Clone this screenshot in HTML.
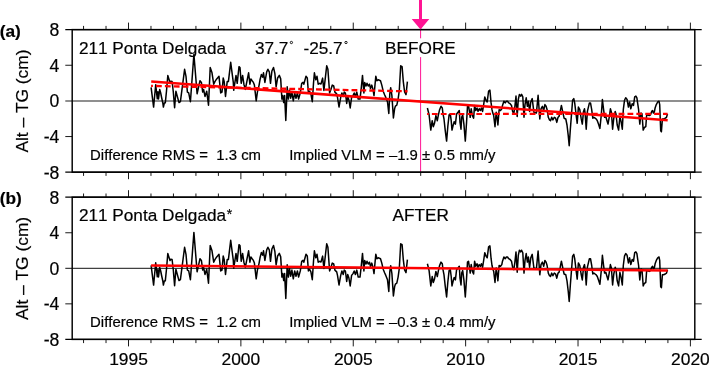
<!DOCTYPE html><html><head><meta charset="utf-8"><style>html,body{margin:0;padding:0;background:#fff;width:709px;height:365px;overflow:hidden}svg{display:block;will-change:transform}text{font-family:"Liberation Sans",sans-serif;fill:#000;font-kerning:none;font-feature-settings:"kern" 0;stroke:#000;stroke-width:0.2px}</style></head><body>
<svg width="709" height="365" viewBox="0 0 709 365">
<line x1="65.3" y1="100.90" x2="701.7" y2="100.90" stroke="#6a6a6a" stroke-width="1.5"/>
<line x1="420.6" y1="29.6" x2="420.6" y2="172.2" stroke="#ff1493" stroke-width="1"/>
<polyline points="151.1,87.3 153.6,107.1 155.7,84.8 156.6,92.9 157.3,98.8 157.9,91.7 158.5,99.0 159.7,89.5 160.7,93.0 161.6,97.5 162.8,103.0 163.4,107.1 164.3,103.0 165.3,102.8 166.5,91.0 167.8,75.6 169.2,80.0 170.0,82.5 170.8,81.2 172.1,81.5 173.3,92.0 174.6,107.8 175.9,91.2 179.0,102.6 180.4,101.7 184.6,69.3 186.0,76.3 187.4,92.1 188.7,92.9 190.4,101.7 193.9,54.4 197.1,93.8 200.0,80.7 201.4,82.4 202.7,92.1 203.6,89.4 205.0,96.4 206.7,91.2 208.5,105.2 210.2,67.5 212.0,72.8 213.7,84.2 214.9,81.6 216.7,78.9 219.0,76.3 220.7,92.9 222.0,92.1 223.2,78.0 224.2,81.6 225.5,96.4 227.2,81.6 228.4,81.6 230.7,62.3 233.3,82.4 233.7,90.3 236.0,75.4 237.2,83.3 239.0,66.7 240.0,67.5 241.2,83.3 242.6,75.4 243.9,84.2 245.3,89.4 248.6,72.8 249.9,84.2 250.9,78.9 252.1,80.7 253.4,82.4 254.4,85.1 256.2,100.8 257.4,92.1 259.1,85.1 260.0,79.8 261.4,74.5 262.7,77.2 263.5,72.8 264.9,82.4 266.7,71.9 267.9,69.3 269.3,71.9 270.5,83.3 271.9,71.0 273.5,67.5 274.9,73.7 276.1,86.8 277.6,78.0 279.3,75.4 280.7,78.9 281.9,99.1 282.8,95.6 283.7,102.6 284.6,95.6 285.8,120.5 287.2,86.8 288.4,99.1 289.5,90.3 290.7,98.2 291.9,92.1 293.3,100.8 294.7,92.9 296.0,98.2 297.4,92.9 298.6,99.1 300.3,92.9 301.7,83.3 303.0,82.4 303.8,84.2 306.0,76.3 307.3,78.0 308.4,92.9 309.5,91.2 310.9,93.8 312.3,101.7 313.5,83.3 314.4,72.8 315.8,79.8 317.0,76.3 318.2,84.2 319.6,83.3 321.0,84.0 322.6,78.1 323.9,90.4 326.7,65.8 327.9,69.3 329.6,93.0 330.9,89.5 332.3,85.1 333.7,86.0 334.9,92.1 336.7,93.9 337.5,97.4 339.0,107.0 340.7,97.4 341.9,93.0 343.2,96.5 344.2,92.1 345.4,93.0 346.7,103.5 347.7,96.5 348.9,100.0 350.2,107.9 351.6,97.4 353.0,95.6 354.2,93.0 355.4,96.5 356.8,92.1 358.2,99.1 360.0,99.1 361.2,88.6 362.5,75.4 363.9,93.0 364.7,82.5 366.0,86.0 367.0,83.3 368.2,86.0 369.5,84.2 370.5,88.6 371.8,85.1 373.0,89.5 374.0,95.6 375.8,76.3 377.0,80.7 378.2,79.8 380.5,80.7 381.8,85.1 383.2,91.2 384.6,94.7 385.8,97.4 387.5,101.8 388.8,113.5 389.8,93.9 390.7,87.7 391.9,95.6 393.4,117.9 394.6,108.8 395.4,106.1 396.8,105.2 398.1,99.1 399.3,90.4 400.7,65.8 402.1,66.7 403.3,81.6 404.6,92.0 406.0,94.7 407.4,81.6" fill="none" stroke="#000" stroke-width="1.5" stroke-linejoin="round"/>
<polyline points="427.4,108.0 429.1,114.8 430.8,130.1 432.2,120.7 433.3,126.7 434.5,123.3 435.9,115.6 437.3,120.7 438.4,114.8 439.6,109.7 441.0,106.3 442.3,108.0 443.0,113.9 444.0,119.0 445.2,130.1 446.6,141.1 447.8,126.7 449.1,114.8 450.3,113.9 451.2,120.7 452.0,130.1 453.2,125.0 454.2,121.6 455.4,124.1 456.6,113.9 458.0,112.2 459.3,110.5 460.0,122.4 461.0,129.2 461.7,117.3 462.7,114.8 463.9,124.1 465.3,141.1 466.5,123.3 467.5,106.3 468.5,105.4 469.5,112.2 470.2,117.3 471.2,108.8 472.4,115.6 473.6,118.2 474.6,105.4 475.8,110.5 477.0,108.0 478.0,111.4 479.2,108.8 480.4,110.5 481.4,108.0 482.6,111.4 483.8,103.7 484.8,96.9 486.0,100.3 487.2,102.0 488.6,91.0 489.9,90.1 491.1,102.9 492.0,109.7 492.8,113.1 493.7,115.6 495.0,126.7 496.2,112.2 497.1,118.2 497.9,125.0 499.1,109.7 500.5,110.5 501.8,108.8 502.5,105.4 503.9,101.2 505.2,102.9 506.4,101.2 507.5,101.2 508.7,102.9 510.1,103.7 511.5,105.4 512.6,111.4 513.8,113.9 514.9,106.3 516.0,96.1 517.2,116.5 518.3,99.5 519.4,94.4 520.6,96.1 521.6,94.4 522.8,96.9 524.0,117.3 525.0,104.6 526.2,97.8 527.4,106.3 528.4,101.2 529.6,111.4 530.8,102.0 532.2,98.6 533.9,112.2 536.4,113.1 538.1,95.2 539.8,119.0 541.0,108.8 542.4,106.3 543.7,110.5 544.9,104.6 546.1,106.3 547.1,109.7 548.3,117.3 549.5,119.9 550.5,120.7 551.7,117.3 552.9,119.9 554.3,117.3 555.6,118.2 556.8,122.4 558.0,117.3 559.0,116.5 560.2,111.4 561.4,105.4 562.8,112.2 564.1,118.2 565.8,119.0 567.0,125.0 568.2,135.2 569.2,145.7 570.4,128.4 571.6,113.1 572.6,100.3 573.8,98.6 574.7,102.9 576.0,113.9 577.2,123.3 578.4,107.1 579.8,109.7 581.1,118.2 582.3,124.1 583.5,111.4 584.5,108.8 585.2,113.9 586.2,129.2 587.4,111.4 589.4,102.9 590.5,102.9 591.7,109.7 592.8,118.2 593.9,117.3 595.1,118.2 596.2,119.0 597.3,120.7 598.5,124.1 599.9,128.4 601.3,114.8 602.4,99.5 603.6,109.7 604.6,117.3 605.8,116.5 607.0,120.7 608.0,124.1 609.2,117.3 610.4,108.8 611.4,112.2 612.6,129.2 613.8,118.2 615.2,111.4 616.0,113.9 617.2,125.0 618.6,130.1 619.9,116.5 621.1,121.6 622.3,129.2 623.3,109.7 624.5,100.3 625.7,97.8 627.1,99.5 628.4,107.1 629.6,102.0 630.8,108.8 632.2,103.7 633.5,105.4 634.7,96.9 635.9,96.1 636.9,97.8 637.6,102.9 638.6,109.7 639.8,124.1 641.0,113.1 642.0,113.9 643.2,130.1 644.4,127.5 645.8,126.7 646.6,115.6 647.8,114.8 649.2,115.6 650.5,114.8 651.7,111.4 652.6,110.5 653.4,113.1 654.3,112.2 655.1,108.0 656.3,104.6 657.7,102.0 659.0,101.2 659.7,104.6 660.7,130.9 661.4,131.8 662.4,119.0 663.6,119.0 665.3,118.2 666.5,117.3 667.5,113.9" fill="none" stroke="#000" stroke-width="1.5" stroke-linejoin="round"/>
<line x1="151.2" y1="81.4" x2="667.7" y2="120.2" stroke="#f00" stroke-width="2.5"/>
<line x1="151.1" y1="85.9" x2="407.6" y2="91.3" stroke="#f00" stroke-width="2.3" stroke-dasharray="5.8 3.09" stroke-dashoffset="4.0"/>
<line x1="427.1" y1="114.0" x2="667.6" y2="113.9" stroke="#f00" stroke-width="2.2" stroke-dasharray="5.8 3.09" stroke-dashoffset="4.1"/>
<path d="M83.55 29.60V25.90M83.55 172.20V175.90M106.02 29.60V25.90M106.02 172.20V175.90M128.50 29.60V22.60M128.50 172.20V179.20M150.98 29.60V25.90M150.98 172.20V175.90M173.45 29.60V25.90M173.45 172.20V175.90M195.93 29.60V25.90M195.93 172.20V175.90M218.40 29.60V25.90M218.40 172.20V175.90M240.88 29.60V22.60M240.88 172.20V179.20M263.36 29.60V25.90M263.36 172.20V175.90M285.83 29.60V25.90M285.83 172.20V175.90M308.31 29.60V25.90M308.31 172.20V175.90M330.78 29.60V25.90M330.78 172.20V175.90M353.26 29.60V22.60M353.26 172.20V179.20M375.74 29.60V25.90M375.74 172.20V175.90M398.21 29.60V25.90M398.21 172.20V175.90M420.69 29.60V25.90M420.69 172.20V175.90M443.16 29.60V25.90M443.16 172.20V175.90M465.64 29.60V22.60M465.64 172.20V179.20M488.12 29.60V25.90M488.12 172.20V175.90M510.59 29.60V25.90M510.59 172.20V175.90M533.07 29.60V25.90M533.07 172.20V175.90M555.54 29.60V25.90M555.54 172.20V175.90M578.02 29.60V22.60M578.02 172.20V179.20M600.50 29.60V25.90M600.50 172.20V175.90M622.97 29.60V25.90M622.97 172.20V175.90M645.45 29.60V25.90M645.45 172.20V175.90M667.92 29.60V25.90M667.92 172.20V175.90M690.40 29.60V22.60M690.40 172.20V179.20M65.30 65.25H72.20M694.80 65.25H701.70M65.30 136.55H72.20M694.80 136.55H701.70" stroke="#000" stroke-width="0.9" fill="none"/>
<path d="M65.30 29.6H701.70M65.30 172.2H701.70" stroke="#000" stroke-width="1.3" fill="none"/>
<rect x="72.2" y="29.6" width="622.60" height="142.60" fill="none" stroke="#000" stroke-width="1.45"/>
<text x="59.4" y="36.00" text-anchor="end" font-size="17.6">8</text>
<text x="59.4" y="71.65" text-anchor="end" font-size="17.6">4</text>
<text x="59.4" y="107.30" text-anchor="end" font-size="17.6">0</text>
<text x="59.4" y="142.95" text-anchor="end" font-size="17.6">-4</text>
<text x="59.4" y="178.60" text-anchor="end" font-size="17.6">-8</text>
<line x1="65.3" y1="268.30" x2="701.7" y2="268.30" stroke="#111" stroke-width="1"/>
<polyline points="151.1,265.3 153.6,285.1 155.7,262.8 156.6,270.9 157.3,276.8 157.9,269.7 158.5,277.0 159.7,267.5 160.7,271.0 161.6,275.5 162.8,281.0 163.4,285.1 164.3,281.0 165.3,280.8 166.5,269.0 167.8,253.6 169.2,258.0 170.0,260.5 170.8,259.2 172.1,259.5 173.3,270.0 174.6,285.8 175.9,269.2 179.0,280.6 180.4,279.7 184.6,247.3 186.0,254.3 187.4,270.1 188.7,270.9 190.4,279.7 193.9,232.4 197.1,271.8 200.0,258.7 201.4,260.4 202.7,270.1 203.6,267.4 205.0,274.4 206.7,269.2 208.5,283.2 210.2,245.5 212.0,250.8 213.7,262.2 214.9,259.6 216.7,256.9 219.0,254.3 220.7,270.9 222.0,270.1 223.2,256.0 224.2,259.6 225.5,274.4 227.2,259.6 228.4,259.6 230.7,240.3 233.3,260.4 233.7,268.3 236.0,253.4 237.2,261.3 239.0,244.7 240.0,245.5 241.2,261.3 242.6,253.4 243.9,262.2 245.3,267.4 248.6,250.8 249.9,262.2 250.9,256.9 252.1,258.7 253.4,260.4 254.4,263.1 256.2,278.8 257.4,270.1 259.1,263.1 260.0,257.8 261.4,252.5 262.7,255.2 263.5,250.8 264.9,260.4 266.7,249.9 267.9,247.3 269.3,249.9 270.5,261.3 271.9,249.0 273.5,245.5 274.9,251.7 276.1,264.8 277.6,256.0 279.3,253.4 280.7,256.9 281.9,277.1 282.8,273.6 283.7,280.6 284.6,273.6 285.8,298.5 287.2,264.8 288.4,277.1 289.5,268.3 290.7,276.2 291.9,270.1 293.3,278.8 294.7,270.9 296.0,276.2 297.4,270.9 298.6,277.1 300.3,270.9 301.7,261.3 303.0,260.4 303.8,262.2 306.0,254.3 307.3,256.0 308.4,270.9 309.5,269.2 310.9,271.8 312.3,279.7 313.5,261.3 314.4,250.8 315.8,257.8 317.0,254.3 318.2,262.2 319.6,261.3 321.0,262.0 322.6,256.1 323.9,268.4 326.7,243.8 327.9,247.3 329.6,271.0 330.9,267.5 332.3,263.1 333.7,264.0 334.9,270.1 336.7,271.9 337.5,275.4 339.0,285.0 340.7,275.4 341.9,271.0 343.2,274.5 344.2,270.1 345.4,271.0 346.7,281.5 347.7,274.5 348.9,278.0 350.2,285.9 351.6,275.4 353.0,273.6 354.2,271.0 355.4,274.5 356.8,270.1 358.2,277.1 360.0,277.1 361.2,266.6 362.5,253.4 363.9,271.0 364.7,260.5 366.0,264.0 367.0,261.3 368.2,264.0 369.5,262.2 370.5,266.6 371.8,263.1 373.0,267.5 374.0,273.6 375.8,254.3 377.0,258.7 378.2,257.8 380.5,258.7 381.8,263.1 383.2,269.2 384.6,272.7 385.8,275.4 387.5,279.8 388.8,291.5 389.8,271.9 390.7,265.7 391.9,273.6 393.4,295.9 394.6,286.8 395.4,284.1 396.8,283.2 398.1,277.1 399.3,268.4 400.7,243.8 402.1,244.7 403.3,259.6 404.6,270.0 406.0,272.7 407.4,259.6" fill="none" stroke="#000" stroke-width="1.5" stroke-linejoin="round"/>
<polyline points="427.4,263.8 429.1,270.6 430.8,285.9 432.2,276.5 433.3,282.5 434.5,279.1 435.9,271.4 437.3,276.5 438.4,270.6 439.6,265.5 441.0,262.1 442.3,263.8 443.0,269.7 444.0,274.8 445.2,285.9 446.6,296.9 447.8,282.5 449.1,270.6 450.3,269.7 451.2,276.5 452.0,285.9 453.2,280.8 454.2,277.4 455.4,279.9 456.6,269.7 458.0,268.0 459.3,266.3 460.0,278.2 461.0,285.0 461.7,273.1 462.7,270.6 463.9,279.9 465.3,296.9 466.5,279.1 467.5,262.1 468.5,261.2 469.5,268.0 470.2,273.1 471.2,264.6 472.4,271.4 473.6,274.0 474.6,261.2 475.8,266.3 477.0,263.8 478.0,267.2 479.2,264.6 480.4,266.3 481.4,263.8 482.6,267.2 483.8,259.5 484.8,252.7 486.0,256.1 487.2,257.8 488.6,246.8 489.9,245.9 491.1,258.7 492.0,265.5 492.8,268.9 493.7,271.4 495.0,282.5 496.2,268.0 497.1,274.0 497.9,280.8 499.1,265.5 500.5,266.3 501.8,264.6 502.5,261.2 503.9,257.0 505.2,258.7 506.4,257.0 507.5,257.0 508.7,258.7 510.1,259.5 511.5,261.2 512.6,267.2 513.8,269.7 514.9,262.1 516.0,251.9 517.2,272.3 518.3,255.3 519.4,250.2 520.6,251.9 521.6,250.2 522.8,252.7 524.0,273.1 525.0,260.4 526.2,253.6 527.4,262.1 528.4,257.0 529.6,267.2 530.8,257.8 532.2,254.4 533.9,268.0 536.4,268.9 538.1,251.0 539.8,274.8 541.0,264.6 542.4,262.1 543.7,266.3 544.9,260.4 546.1,262.1 547.1,265.5 548.3,273.1 549.5,275.7 550.5,276.5 551.7,273.1 552.9,275.7 554.3,273.1 555.6,274.0 556.8,278.2 558.0,273.1 559.0,272.3 560.2,267.2 561.4,261.2 562.8,268.0 564.1,274.0 565.8,274.8 567.0,280.8 568.2,291.0 569.2,301.5 570.4,284.2 571.6,268.9 572.6,256.1 573.8,254.4 574.7,258.7 576.0,269.7 577.2,279.1 578.4,262.9 579.8,265.5 581.1,274.0 582.3,279.9 583.5,267.2 584.5,264.6 585.2,269.7 586.2,285.0 587.4,267.2 589.4,258.7 590.5,258.7 591.7,265.5 592.8,274.0 593.9,273.1 595.1,274.0 596.2,274.8 597.3,276.5 598.5,279.9 599.9,284.2 601.3,270.6 602.4,255.3 603.6,265.5 604.6,273.1 605.8,272.3 607.0,276.5 608.0,279.9 609.2,273.1 610.4,264.6 611.4,268.0 612.6,285.0 613.8,274.0 615.2,267.2 616.0,269.7 617.2,280.8 618.6,285.9 619.9,272.3 621.1,277.4 622.3,285.0 623.3,265.5 624.5,256.1 625.7,253.6 627.1,255.3 628.4,262.9 629.6,257.8 630.8,264.6 632.2,259.5 633.5,261.2 634.7,252.7 635.9,251.9 636.9,253.6 637.6,258.7 638.6,265.5 639.8,279.9 641.0,268.9 642.0,269.7 643.2,285.9 644.4,283.3 645.8,282.5 646.6,271.4 647.8,270.6 649.2,271.4 650.5,270.6 651.7,267.2 652.6,266.3 653.4,268.9 654.3,268.0 655.1,263.8 656.3,260.4 657.7,257.8 659.0,257.0 659.7,260.4 660.7,286.7 661.4,287.6 662.4,274.8 663.6,274.8 665.3,274.0 666.5,273.1 667.5,269.7" fill="none" stroke="#000" stroke-width="1.5" stroke-linejoin="round"/>
<line x1="151.1" y1="265.4" x2="667.7" y2="270.6" stroke="#f00" stroke-width="2.5"/>
<path d="M83.55 197.20V193.50M83.55 339.40V343.10M106.02 197.20V193.50M106.02 339.40V343.10M128.50 197.20V190.20M128.50 339.40V346.40M150.98 197.20V193.50M150.98 339.40V343.10M173.45 197.20V193.50M173.45 339.40V343.10M195.93 197.20V193.50M195.93 339.40V343.10M218.40 197.20V193.50M218.40 339.40V343.10M240.88 197.20V190.20M240.88 339.40V346.40M263.36 197.20V193.50M263.36 339.40V343.10M285.83 197.20V193.50M285.83 339.40V343.10M308.31 197.20V193.50M308.31 339.40V343.10M330.78 197.20V193.50M330.78 339.40V343.10M353.26 197.20V190.20M353.26 339.40V346.40M375.74 197.20V193.50M375.74 339.40V343.10M398.21 197.20V193.50M398.21 339.40V343.10M420.69 197.20V193.50M420.69 339.40V343.10M443.16 197.20V193.50M443.16 339.40V343.10M465.64 197.20V190.20M465.64 339.40V346.40M488.12 197.20V193.50M488.12 339.40V343.10M510.59 197.20V193.50M510.59 339.40V343.10M533.07 197.20V193.50M533.07 339.40V343.10M555.54 197.20V193.50M555.54 339.40V343.10M578.02 197.20V190.20M578.02 339.40V346.40M600.50 197.20V193.50M600.50 339.40V343.10M622.97 197.20V193.50M622.97 339.40V343.10M645.45 197.20V193.50M645.45 339.40V343.10M667.92 197.20V193.50M667.92 339.40V343.10M690.40 197.20V190.20M690.40 339.40V346.40M65.30 232.75H72.20M694.80 232.75H701.70M65.30 303.85H72.20M694.80 303.85H701.70" stroke="#000" stroke-width="0.9" fill="none"/>
<path d="M65.30 197.2H701.70M65.30 339.4H701.70" stroke="#000" stroke-width="1.3" fill="none"/>
<rect x="72.2" y="197.2" width="622.60" height="142.20" fill="none" stroke="#000" stroke-width="1.45"/>
<text x="59.4" y="203.60" text-anchor="end" font-size="17.6">8</text>
<text x="59.4" y="239.15" text-anchor="end" font-size="17.6">4</text>
<text x="59.4" y="274.70" text-anchor="end" font-size="17.6">0</text>
<text x="59.4" y="310.25" text-anchor="end" font-size="17.6">-4</text>
<text x="59.4" y="345.80" text-anchor="end" font-size="17.6">-8</text>
<path d="M419 0H422V19H429.3L420.5 29.4L411.7 19H419Z" fill="#ff1493"/>
<text x="78.9" y="54.2" font-size="17.2" >211 Ponta Delgada</text>
<text x="254.9" y="54.2" font-size="17.2" >37.7</text>
<circle cx="291.4" cy="42.5" r="1.15" fill="none" stroke="#000" stroke-width="0.9"/>
<text x="303.5" y="54.2" font-size="17.2" >-25.7</text>
<circle cx="346" cy="42.5" r="1.15" fill="none" stroke="#000" stroke-width="0.9"/>
<rect x="383" y="38.3" width="75" height="18.8" fill="#fff"/>
<text x="385.1" y="54.2" font-size="17.2" >BEFORE</text>
<text x="90.1" y="159.5" font-size="14.9" >Difference RMS =&#160; 1.3 cm</text>
<text x="289.2" y="159.5" font-size="14.9" >Implied VLM = &#8211;1.9 &#177; 0.5 mm/y</text>
<text x="78.9" y="221.2" font-size="17.2" >211 Ponta Delgada<tspan font-size="14" dx="0.6" dy="-2.7">*</tspan></text>
<text x="392.5" y="221.2" font-size="17.2" >AFTER</text>
<text x="90.1" y="326.5" font-size="14.9" >Difference RMS =&#160; 1.2 cm</text>
<text x="289.2" y="326.5" font-size="14.9" >Implied VLM = &#8211;0.3 &#177; 0.4 mm/y</text>
<text x="-0.3" y="36.6" font-size="17.3" font-weight="bold">(a)</text>
<text x="-0.3" y="203.6" font-size="17.3" font-weight="bold">(b)</text>
<text transform="translate(27.9 101.05) rotate(-90)" text-anchor="middle" font-size="17.35">Alt &#8211; TG (cm)</text>
<text transform="translate(27.9 268.45) rotate(-90)" text-anchor="middle" font-size="17.35">Alt &#8211; TG (cm)</text>
<text x="128.50" y="364.6" text-anchor="middle" font-size="17.4">1995</text>
<text x="240.88" y="364.6" text-anchor="middle" font-size="17.4">2000</text>
<text x="353.26" y="364.6" text-anchor="middle" font-size="17.4">2005</text>
<text x="465.64" y="364.6" text-anchor="middle" font-size="17.4">2010</text>
<text x="578.02" y="364.6" text-anchor="middle" font-size="17.4">2015</text>
<text x="690.40" y="364.6" text-anchor="middle" font-size="17.4">2020</text>
</svg></body></html>
